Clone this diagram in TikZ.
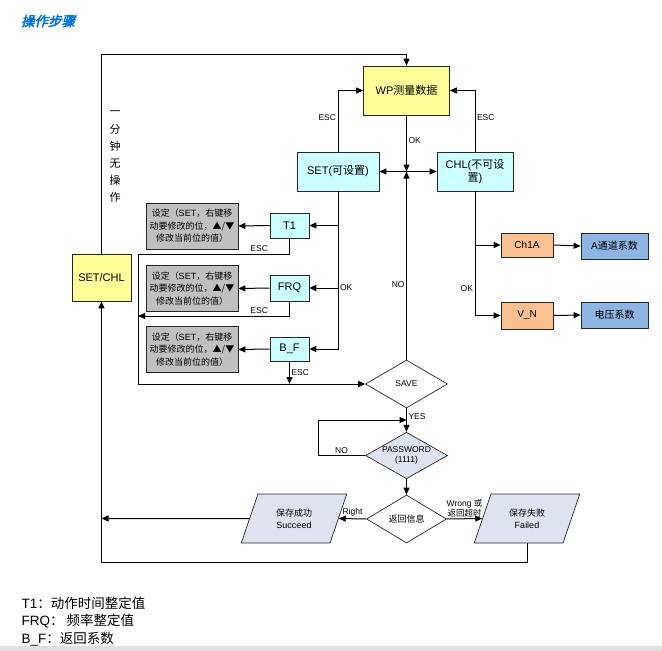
\documentclass[tikz,border=0pt]{standalone}
\usepackage{fontspec}
\setmainfont{Liberation Sans}
\newfontfamily\cjk{Noto Sans CJK SC}
\newfontfamily\cjktitle{Noto Sans CJK SC}[FakeBold=3,FakeSlant=0.25]
\usetikzlibrary{positioning, arrows.meta, shapes.geometric}
\newcommand{\zh}[1]{{\cjk #1}}
\definecolor{boxyellow}{RGB}{255,255,153}
\definecolor{boxcyan}{RGB}{204,255,255}
\definecolor{boxgray}{RGB}{192,192,192}
\definecolor{boxorange}{RGB}{250,192,144}
\definecolor{boxblue}{RGB}{141,180,226}
\definecolor{boxlav}{RGB}{221,228,240}
\definecolor{titleblue}{RGB}{0,112,224}
\tikzset{
  box/.style={draw=black!85, line width=0.7pt, inner sep=0pt, align=center, font=\fontsize{11}{13}\selectfont},
  ybox/.style={box, fill=boxyellow},
  cbox/.style={box, fill=boxcyan, minimum width=39pt, minimum height=25pt},
  gbox/.style={box, fill=boxgray, minimum width=92pt, minimum height=46pt, font=\fontsize{9}{12.5}\selectfont},
  obox/.style={box, fill=boxorange, minimum width=52pt, minimum height=25pt, font=\fontsize{10}{12}\selectfont},
  bbox/.style={box, fill=boxblue, minimum width=67pt, minimum height=26pt, font=\fontsize{10}{12}\selectfont},
  dia/.style={diamond, aspect=1.7, draw=black!85, line width=0.7pt, inner sep=0pt, minimum width=82pt, minimum height=48pt, align=center, font=\fontsize{8.5}{10}\selectfont},
  para/.style={trapezium, trapezium left angle=67, trapezium right angle=113, trapezium stretches=true, draw=black!85, line width=0.7pt, fill=boxlav, minimum width=106pt, minimum height=49pt, inner sep=0pt, align=center, font=\fontsize{9}{12}\selectfont},
  lab/.style={font=\fontsize{8.5}{10}\selectfont, inner sep=1.5pt},
  line/.style={line width=1pt, -{Triangle[length=7pt,width=6pt]}},
}
\newcommand{\setdesc}{\zh{设定（}SET\zh{，右键移}\\\zh{动要修改的位，▲/▼}\\\zh{修改当前位的值）}}
\begin{document}
\begin{tikzpicture}[x=1pt, y=-1pt]
  \useasboundingbox (0,0) rectangle (662,651);
  \fill[black!12] (0,646) rectangle (662,651);

  \node[text=titleblue, font=\fontsize{13.5}{15}\selectfont] (TITLE) at (48,21) {\cjktitle 操作步骤};

  \node[ybox, minimum width=86pt, minimum height=49pt] (WP) at (406.5,90.5) {WP\zh{测量数据}};
  \node[box, fill=boxcyan, minimum width=82pt, minimum height=39pt] (SET) at (338,171.5) {SET(\zh{可设置})};
  \node[box, fill=boxcyan, minimum width=76pt, minimum height=39pt] (CHL) at (475,171.5) {CHL(\zh{不可设}\\\zh{置})};
  \node[ybox, minimum width=59pt, minimum height=47pt] (SETCHL) at (101.5,277.5) {SET/CHL};

  \node[cbox] (T1) at (289.5,225.5) {T1};
  \node[cbox, minimum height=26pt] (FRQ) at (289.5,288) {FRQ};
  \node[cbox, minimum height=24pt] (BF) at (289.5,349) {B\_F};
  \node[gbox] (G1) at (192,226) {\setdesc};
  \node[gbox] (G2) at (192,288.5) {\setdesc};
  \node[gbox] (G3) at (192,349.5) {\setdesc};

  \node[obox, minimum height=24pt] (CHA) at (527,245) {Ch1A};
  \node[obox, minimum height=27pt] (VN) at (527,315.5) {V\_N};
  \node[bbox] (ACOEF) at (614.5,246) {A\zh{通道系数}};
  \node[bbox] (VCOEF) at (614.5,315) {\zh{电压系数}};

  \node[dia] (SAVE) at (406.5,384) {SAVE};
  \node[dia, fill=boxlav, minimum height=43pt] (PW) at (406.5,455.5) {PASSWORD\\(1111)};
  \node[dia, minimum width=80pt, font=\fontsize{9}{11}\selectfont] (INFO) at (406.5,519) {\zh{返回信息}};
  \node[para] (SUCC) at (294,518.5) {\zh{保存成功}\\Succeed};
  \node[para] (FAIL) at (527,518.5) {\zh{保存失败}\\Failed};

  \node[align=center, font=\fontsize{11}{17.2}\selectfont] (IDLE) at (115,157) {\zh{一}\\\zh{分}\\\zh{钟}\\\zh{无}\\\zh{操}\\\zh{作}};

  \coordinate (TOPL) at (101.5,54);
  \coordinate (JUNC) at (406.5,171.5);
  \coordinate (ESCL) at (138,254);
  \coordinate (ESCM) at (138,316);
  \coordinate (ESCB) at (138,384);
  \coordinate (NOL) at (318,420);
  \coordinate (NOR) at (406.5,420);
  \coordinate (SRET) at (101.5,518.5);
  \coordinate (BOTL) at (101.5,562);

  \draw[line] (SETCHL.north) -- (TOPL) -| (WP.north);
  \draw[line] (SET.north) |- node[lab, left, pos=0.28] {ESC} (WP.west);
  \draw[line] (CHL.north) |- node[lab, right, pos=0.28] {ESC} (WP.east);
  \draw[line] (WP.south) -- node[lab, right, pos=0.45] {OK} (JUNC);
  \draw[line] (JUNC) -- (SET.east);
  \draw[line] (JUNC) -- (CHL.west);
  \draw[line] (SAVE.north) -- node[lab, left, pos=0.4] {NO} (JUNC);

  \draw[line] (SET.south) |- (T1.east);
  \draw[line] (SET.south) |- node[lab, right, pos=0.5] {OK} (FRQ.east);
  \draw[line] (SET.south) |- (BF.east);
  \draw[line] (T1.west) -- (G1.east);
  \draw[line] (FRQ.west) -- (G2.east);
  \draw[line] (BF.west) -- (G3.east);

  \draw[line] (T1.south) |- node[lab, above, pos=0.6] {ESC} (ESCL) -- (ESCB) -- (SAVE.west);
  \draw[line] (FRQ.south) |- node[lab, above, pos=0.6] {ESC} (ESCM);
  \draw[line] (BF.south) -- node[lab, right, pos=0.5] {ESC} (BF.south |- ESCB);

  \draw[line] (CHL.south) |- (CHA.west);
  \draw[line] (CHL.south) |- node[lab, left, pos=0.39] {OK} (VN.west);
  \draw[line] (CHA.east) -- (ACOEF.west);
  \draw[line] (VN.east) -- (VCOEF.west);

  \draw[line] (SAVE.south) -- node[lab, right, pos=0.35] {YES} (PW.north);
  \draw[line] (PW.west) -| node[lab, above, pos=0.25] {NO} (NOL) -- (NOR);
  \draw[line] (PW.south) -- (INFO.north);
  \draw[line] (INFO.west) -- node[lab, above] {Right} (SUCC.east);
  \draw[line] (INFO.east) -- node[lab, above, align=center] {Wrong \zh{或}\\\zh{返回超时}} (FAIL.west);
  \draw[line] (SUCC.west) -- (SRET);
  \draw[line] (FAIL.south) |- (BOTL) -- (SETCHL.south);

  \node[anchor=west, font=\fontsize{13.5}{15}\selectfont] (LEG1) at (18,603) {T1\zh{：动作时间整定值}};
  \node[anchor=west, font=\fontsize{13.5}{15}\selectfont] (LEG2) at (18,621) {FRQ\zh{： 频率整定值}};
  \node[anchor=west, font=\fontsize{13.5}{15}\selectfont] (LEG3) at (18,639) {B\_F\zh{：返回系数}};
\end{tikzpicture}
\end{document}
